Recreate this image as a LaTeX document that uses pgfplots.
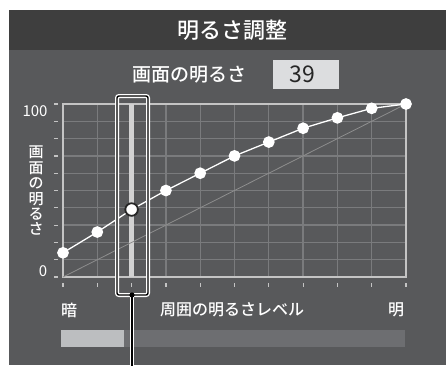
\documentclass[border=0pt]{standalone}
\usepackage{pgfplots}
\pgfplotsset{compat=1.18}
\usepackage{fontspec}
\setmainfont{Noto Sans CJK JP}[BoldFont={Noto Sans CJK JP Medium}]
\definecolor{panel}{HTML}{58595B}
\definecolor{titlebar}{HTML}{3E3E3E}
\definecolor{gridc}{HTML}{7A7B7D}
\definecolor{axisc}{HTML}{C4C4C4}
\definecolor{boxc}{HTML}{DCDDDF}
\definecolor{barlight}{HTML}{BCBEC0}
\definecolor{bardark}{HTML}{6D6E71}
\definecolor{diag}{HTML}{8E8E8E}
\definecolor{selbar}{HTML}{D2D2D2}
\begin{document}
\begin{tikzpicture}[every node/.style={font=\bfseries}]
\useasboundingbox (0pt,0pt) rectangle (446pt,-365pt);
\fill[panel] (9pt,-10pt) rectangle (446pt,-365pt);
\fill[titlebar] (9pt,-10pt) rectangle (446pt,-50pt);
\node[white,font=\bfseries\fontsize{22}{22}\selectfont] at (232pt,-30pt) {明るさ調整};
\node[white,font=\bfseries\fontsize{19}{19}\selectfont] at (189pt,-75pt) {画面の明るさ};
\fill[boxc] (273pt,-60pt) rectangle (339pt,-89pt);
\node[black!85,font=\fontsize{23}{23}\selectfont] at (302pt,-74.5pt) {39};
\node[white,font=\fontsize{15}{15}\selectfont] at (35pt,-111pt) {100};
\node[white,font=\fontsize{15}{15}\selectfont] at (43pt,-271pt) {0};
\node[white,align=center,font=\bfseries\fontsize{15}{15.4}\selectfont,inner sep=0pt] at (36pt,-191pt) {画\\面\\の\\明\\る\\さ};
\begin{axis}[at={(63pt,-277pt)}, anchor=south west, scale only axis,
  width=343pt, height=173pt, xmin=0, xmax=10, ymin=0, ymax=100,
  xtick={0,1,...,10}, ytick={0,10,...,100}, xticklabels={}, yticklabels={},
  major tick length=0pt, grid=major, grid style={gridc, line width=1.3pt},
  axis line style={axisc, line width=1.5pt}, clip=false]
\addplot[selbar, line width=5pt] coordinates {(2,0) (2,100)};
\addplot[diag, line width=0.8pt] coordinates {(0,0) (10,100)};
\addplot[white, line width=1.3pt, mark=*, mark size=5.2pt, mark options={fill=white, draw=white}]
  coordinates {(0,14) (1,26) (2,39) (3,50) (4,60) (5,70) (6,78) (7,86) (8,92) (9,97.5) (10,100)};
\addplot[only marks, mark=*, mark size=6.3pt, mark options={fill=white, draw=black!85, line width=1.8pt}]
  coordinates {(2,39)};
\end{axis}
\foreach \k in {0,...,10} {
  \draw[axisc, line width=1.2pt] (54pt,{-277pt+17.3pt*\k}) -- (58pt,{-277pt+17.3pt*\k});
  \draw[axisc, line width=1.2pt] ({63pt+34.3pt*\k},-283pt) -- ({63pt+34.3pt*\k},-287pt);
}
\draw[white, line width=4pt, rounded corners=2pt] (117pt,-96pt) rectangle (148pt,-295pt);
\draw[black, line width=1.4pt, rounded corners=2pt] (117pt,-96pt) rectangle (148pt,-295pt);
\draw[white, line width=4pt] (132pt,-295pt) -- (132pt,-366pt);
\draw[black, line width=1.4pt] (132pt,-295pt) -- (132pt,-366pt);
\fill[black] (132pt,-295pt) circle (2.6pt);
\node[white,font=\bfseries\fontsize{16}{16}\selectfont] at (69pt,-310pt) {暗};
\node[white,font=\bfseries\fontsize{16}{16}\selectfont] at (232pt,-310pt) {周囲の明るさレベル};
\node[white,font=\bfseries\fontsize{16}{16}\selectfont] at (396pt,-310pt) {明};
\fill[bardark] (61pt,-330pt) rectangle (405pt,-347pt);
\fill[barlight] (61pt,-330pt) rectangle (124pt,-347pt);
\draw[white, line width=4pt] (132pt,-320pt) -- (132pt,-366pt);
\draw[black, line width=1.4pt] (132pt,-320pt) -- (132pt,-366pt);
\end{tikzpicture}
\end{document}
